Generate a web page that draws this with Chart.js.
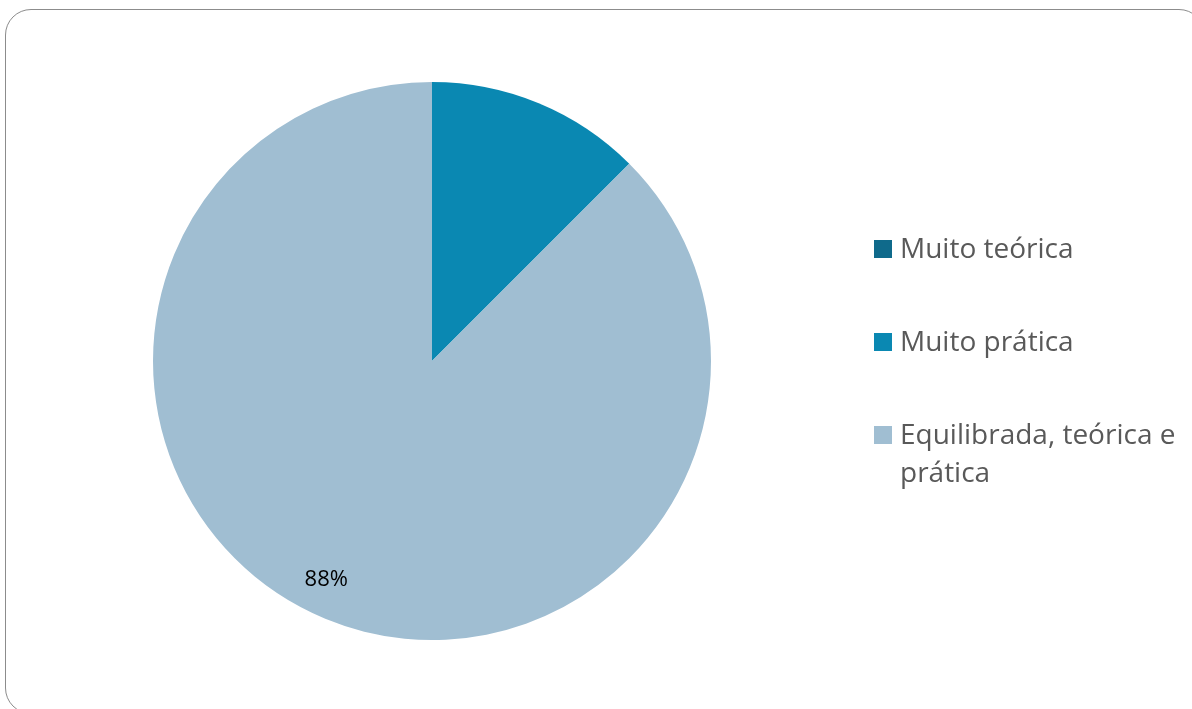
<!DOCTYPE html>
<html>
<head>
<meta charset="utf-8">
<script src="https://cdn.jsdelivr.net/npm/chart.js@4"></script>
<style>
    html, body { margin: 0; padding: 0; background: #fff; }
    body { width: 1192px; height: 709px; position: relative; overflow: hidden; }
    #frame {
        position: absolute; left: 5px; top: 9px; width: 1200px; height: 705px;
        border: 1.5px solid #8c8c8c; border-radius: 26px; box-sizing: border-box;
    }
    #wrap { position: absolute; left: 0; top: 0; width: 1192px; height: 709px; }
    #legend {
        position: absolute; left: 874px; top: 228px; width: 318px;
        font-family: "Open Sans", sans-serif; font-size: 28px; color: #595959;
    }
    .item { position: relative; padding-left: 26px; line-height: 38px; margin-bottom: 55px; white-space: nowrap; }
    .box { position: absolute; left: 0; top: 12px; width: 18px; height: 18px; }
</style>
</head>
<body>
<div id="frame"></div>
<div id="wrap"><canvas id="pieChart"></canvas></div>
<div id="legend"></div>
<script>
// 数据
const categories = ['Muito teórica', 'Muito prática', 'Equilibrada, teórica e prática'];
const legendText = ['Muito teórica', 'Muito prática', 'Equilibrada, teórica e<br>prática'];
const percentValues = [0, 12.5, 87.5];
const shownLabels = ['', '', '88%'];
const sliceColors = ['#0f6a8b', '#0a88b2', '#a0bed2'];

// 扇区标签
const sliceLabelPlugin = {
    id: 'sliceLabels',
    afterDatasetsDraw(chart) {
        const ctx = chart.ctx;
        const meta = chart.getDatasetMeta(0);
        ctx.save();
        ctx.font = '22px "Open Sans", sans-serif';
        ctx.fillStyle = '#000';
        ctx.textAlign = 'center';
        ctx.textBaseline = 'middle';
        meta.data.forEach((arc, i) => {
            if (!shownLabels[i]) return;
            const p = arc.getProps(['x', 'y', 'startAngle', 'endAngle', 'outerRadius'], true);
            const mid = (p.startAngle + p.endAngle) / 2;
            const r = p.outerRadius * 0.85;
            // 稍微向左偏移
            ctx.fillText(shownLabels[i], p.x + Math.cos(mid) * r - 15, p.y + Math.sin(mid) * r);
        });
        ctx.restore();
    }
};

function initChart() {
    const ctx = document.getElementById('pieChart').getContext('2d');
    window.pieChart = new Chart(ctx, {
        type: 'pie',
        data: {
            labels: categories,
            datasets: [{
                data: percentValues,
                backgroundColor: sliceColors,
                borderWidth: 0
            }]
        },
        options: {
            responsive: true,
            maintainAspectRatio: false,
            animation: false,
            layout: { padding: { left: 153, top: 82, right: 481, bottom: 69 } },
            plugins: {
                legend: { display: false },
                tooltip: { enabled: false }
            }
        },
        plugins: [sliceLabelPlugin]
    });

    // 图例
    const legend = document.getElementById('legend');
    legend.innerHTML = categories.map((c, i) =>
        '<div class="item"><span class="box" style="background:' + sliceColors[i] + '"></span>' + legendText[i] + '</div>'
    ).join('');
}

document.addEventListener('DOMContentLoaded', initChart);
</script>
</body>
</html>
